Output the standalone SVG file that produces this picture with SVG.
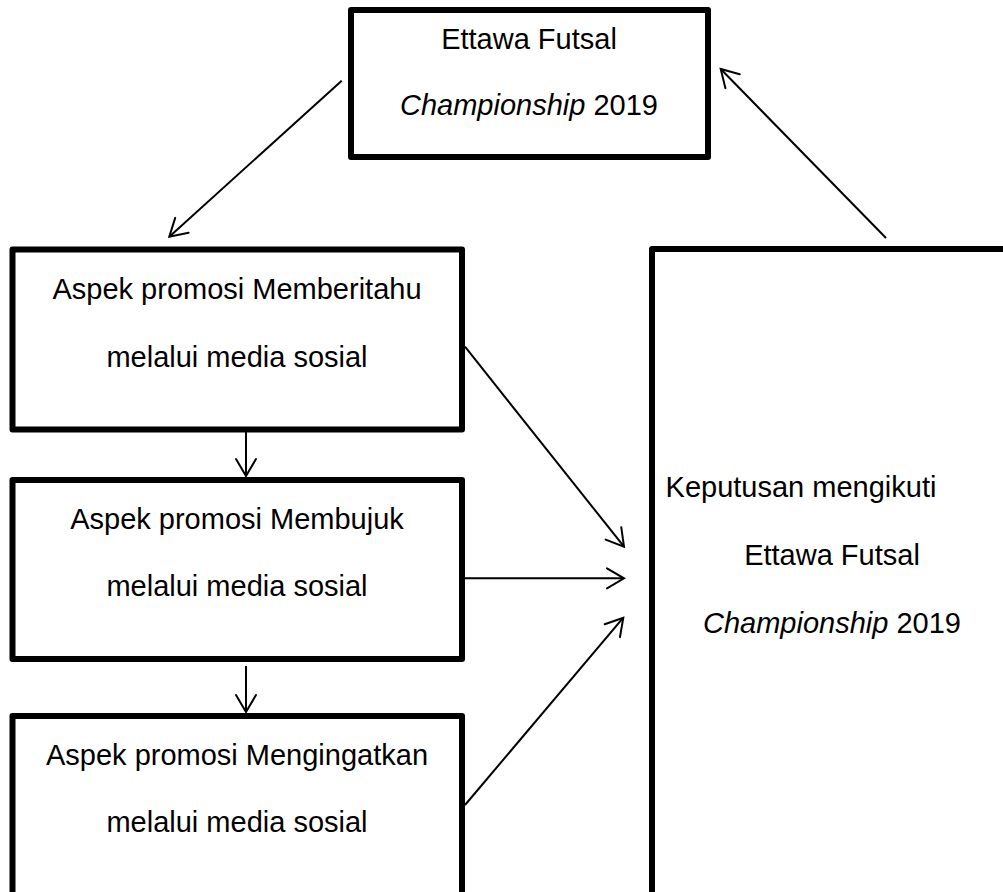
<svg xmlns="http://www.w3.org/2000/svg" width="1003" height="892" viewBox="0 0 1003 892">
<style>
.box{fill:#fff;stroke:#000;stroke-width:6;stroke-linejoin:round}
.t{font-family:"Liberation Sans",Arial,sans-serif;font-size:29px;fill:#000;text-anchor:middle}
.i{font-style:italic}
.c{fill:none;stroke:#000;stroke-width:2}
</style>
<defs>
<marker id="ah" viewBox="-20 -12 22 24" refX="0" refY="0" markerWidth="22" markerHeight="24" markerUnits="userSpaceOnUse" orient="auto" overflow="visible">
<path d="M-17,-10 L0,0 L-17,10" fill="none" stroke="#000" stroke-width="2" stroke-linecap="round" stroke-linejoin="miter"/>
</marker>
</defs>
<rect width="1003" height="892" fill="#fff"/>
<g id="top">
<rect class="box" x="351" y="10" width="357" height="147"/>
<text class="t" x="529" y="49">Ettawa Futsal</text>
<text class="t" x="529" y="115"><tspan class="i">Championship</tspan> 2019</text>
</g>
<g id="memberitahu">
<rect class="box" x="12.5" y="249.5" width="449.5" height="180"/>
<text class="t" x="237" y="299">Aspek promosi Memberitahu</text>
<text class="t" x="237" y="367">melalui media sosial</text>
</g>
<g id="membujuk">
<rect class="box" x="12.5" y="480" width="449.5" height="179"/>
<text class="t" x="237" y="529">Aspek promosi Membujuk</text>
<text class="t" x="237" y="596">melalui media sosial</text>
</g>
<g id="mengingatkan">
<rect class="box" x="12.5" y="716" width="449.5" height="200"/>
<text class="t" x="237" y="765">Aspek promosi Mengingatkan</text>
<text class="t" x="237" y="832">melalui media sosial</text>
</g>
<g id="keputusan">
<rect class="box" x="652" y="249" width="360" height="670"/>
<text class="t" x="801" y="497">Keputusan mengikuti</text>
<text class="t" x="832" y="565">Ettawa Futsal</text>
<text class="t" x="832" y="633"><tspan class="i">Championship</tspan> 2019</text>
</g>
<g id="connectors">
<line class="c" x1="341.7" y1="80.7" x2="169.3" y2="236.7" marker-end="url(#ah)"/>
<line class="c" x1="886" y1="238" x2="720.7" y2="69" marker-end="url(#ah)"/>
<line class="c" x1="465" y1="346.7" x2="624" y2="546.7" marker-end="url(#ah)"/>
<line class="c" x1="465" y1="578.3" x2="624" y2="578.3" marker-end="url(#ah)"/>
<line class="c" x1="465" y1="805" x2="623.3" y2="617.7" marker-end="url(#ah)"/>
<line class="c" x1="246" y1="432" x2="246" y2="476" marker-end="url(#ah)"/>
<line class="c" x1="246" y1="666" x2="246" y2="712" marker-end="url(#ah)"/>
</g>
</svg>
